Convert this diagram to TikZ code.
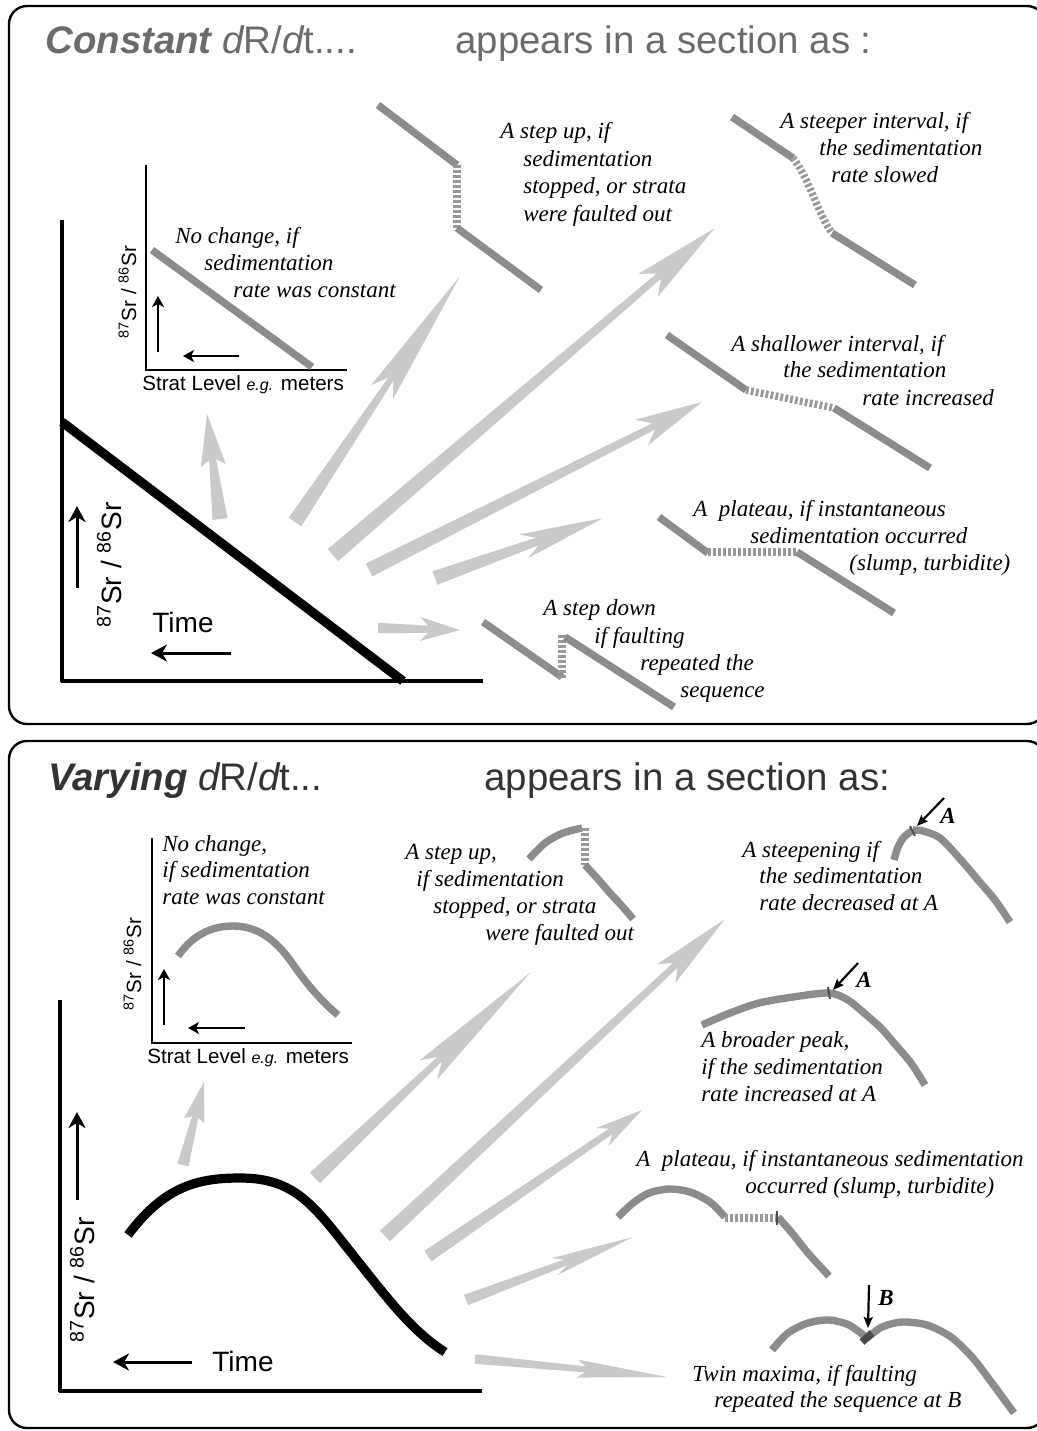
\documentclass[tikz,border=0pt]{standalone}
\usepackage{fontspec}
\newfontfamily\arial{Liberation Sans}
\newfontfamily\notefont{Liberation Serif}
\usetikzlibrary{calc,arrows.meta}
\definecolor{arrowgray}{gray}{0.79}
\definecolor{linegray}{gray}{0.55}
\definecolor{dashgray}{gray}{0.6}
\definecolor{tickgray}{gray}{0.3}
\definecolor{titlegray}{gray}{0.42}
\definecolor{titledark}{gray}{0.2}
% #1 tail, #2 tip, #3 tail half width, #4 neck half width, #5 inset dist, #6 barb dist, #7 barb half width
\newcommand\fatarrow[7]{%
  \coordinate (faN) at ($(#2)!#5!(#1)$);
  \coordinate (faB) at ($(#2)!#6!(#1)$);
  \fill[arrowgray] ($(#1)!#3!90:(#2)$) -- ($(faN)!#4!90:(#2)$) -- ($(faB)!#7!90:(#2)$) -- (#2)
    -- ($(faB)!#7!-90:(#2)$) -- ($(faN)!#4!-90:(#2)$) -- ($(#1)!#3!-90:(#2)$) -- cycle;}
\begin{document}
\begin{tikzpicture}[x=0.5pt,y=-0.5pt,
 panel/.style={draw=black,line width=1.2pt,rounded corners=9pt},
 gline/.style={draw=linegray,line width=3.7pt},
 dline/.style={draw=dashgray,line width=3.7pt,dash pattern=on 1.4pt off 1.1pt},
 bigtip/.style={-{Stealth[length=8pt,width=8.5pt,inset=2.5pt]},line width=1.5pt},
 smalltip/.style={-{Stealth[length=5.5pt,width=6pt,inset=1.5pt]},line width=0.9pt},
 atip/.style={-{Stealth[length=5.5pt,width=4.5pt,inset=1pt]},line width=1.1pt},
 title/.style={anchor=base west,inner sep=0pt,font=\arial\fontsize{19.2}{23}\selectfont},
 note/.style={anchor=base west,inner sep=0pt,font=\notefont\itshape\fontsize{11.5}{13}\selectfont},
 axlab/.style={inner sep=0pt,font=\arial\fontsize{14}{16}\selectfont},
 inlab/.style={inner sep=0pt,font=\arial\fontsize{10.3}{12}\selectfont},
 letter/.style={anchor=base west,inner sep=0pt,font=\notefont\bfseries\itshape\fontsize{11.5}{13}\selectfont},
 tick/.style={draw=tickgray,line width=1pt}]
\useasboundingbox (0,0) rectangle (1037,1431);
\begin{scope}
\clip (0,0) rectangle (1037,1431);
\draw[panel] (9,6) rectangle (1045,724);
\draw[panel] (9,741) rectangle (1045,1428);
\end{scope}

% ================= TOP PANEL =================
\node[title,text=titlegray] (t1) at (45,53) {{\bfseries\itshape Constant} {\itshape d}R/{\itshape d}t....};
\node[title,text=titlegray] (t2) at (455,53) {appears in a section as :};

% main graph
\draw[line width=2pt] (62,220) -- (62,682);
\draw[line width=1.6pt] (61,681) -- (483,681);
\draw[line width=4.6pt] (62,422) -- (403,681);
\coordinate (mu1) at (77,588); \coordinate (mu2) at (77,506);
\draw[bigtip] (mu1) -- (mu2);
\coordinate (ml1) at (231,653); \coordinate (ml2) at (151,653);
\draw[bigtip] (ml1) -- (ml2);
\node[axlab,rotate=90,anchor=base] (ylab1) at (121,565) {\textsuperscript{87}Sr / \textsuperscript{86}Sr};
\node[axlab,anchor=base west] (time1) at (152,632) {Time};

% inset graph
\draw[line width=1pt] (146,165) -- (146,370) -- (347,370);
\draw[gline] (152,250) -- (312,367);
\coordinate (iu1) at (158,352); \coordinate (iu2) at (158,296);
\draw[smalltip] (iu1) -- (iu2);
\coordinate (il1) at (239,356); \coordinate (il2) at (183,356);
\draw[smalltip] (il1) -- (il2);
\node[inlab,anchor=base west] (strat1) at (142,390) {Strat Level {\itshape\fontsize{8}{9}\selectfont e.g.} meters};
\node[inlab,rotate=90,anchor=base] (ylab2) at (136,292) {\textsuperscript{87}Sr / \textsuperscript{86}Sr};
\node[note] (n1a) at (175,243) {No change, if};
\node[note] (n1b) at (204,270) {sedimentation};
\node[note] (n1c) at (233,297) {rate was constant};

% step up
\draw[gline] (378,105) -- (457,165);
\draw[dline] (457,165) -- (457,228);
\draw[gline] (457,228) -- (541,290);
\node[note] (n2a) at (500,138) {A step up, if};
\node[note] (n2b) at (523,166) {sedimentation};
\node[note] (n2c) at (523,193) {stopped, or strata};
\node[note] (n2d) at (523,221) {were faulted out};

% steeper
\draw[gline] (732,117) -- (793,158);
\draw[dline] (793,158) .. controls (808,176) and (818,214) .. (832,233);
\draw[gline] (832,233) -- (915,285);
\node[note] (n3a) at (780,128) {A steeper interval, if};
\node[note] (n3b) at (819,155) {the sedimentation};
\node[note] (n3c) at (831,182) {rate slowed};

% shallower
\draw[gline] (667,335) -- (746,390);
\draw[dline] (746,390) -- (834,408);
\draw[gline] (834,408) -- (930,468);
\node[note] (n4a) at (731,351) {A shallower interval, if};
\node[note] (n4b) at (783,377) {the sedimentation};
\node[note] (n4c) at (862,405) {rate increased};

% plateau
\draw[gline] (659,517) -- (708,553);
\draw[dline] (708,552) -- (797,552);
\draw[gline] (797,552) -- (894,613);
\node[note] (n5a) at (693,516) {A\ \ plateau, if instantaneous};
\node[note] (n5b) at (750,543) {sedimentation occurred};
\node[note] (n5c) at (849,570) {(slump, turbidite)};

% step down
\draw[gline] (483,622) -- (562,677);
\draw[dline] (562,678) -- (562,635);
\draw[gline] (565,637) -- (674,707);
\node[note] (n6a) at (543,615) {A step down};
\node[note] (n6b) at (594,643) {if faulting};
\node[note] (n6c) at (640,670) {repeated the};
\node[note] (n6d) at (680,697) {sequence};

% fat arrows top
\coordinate (a1t) at (220,519); \coordinate (a1h) at (207,414);
\fatarrow{a1t}{a1h}{3.8pt}{1.7pt}{23pt}{26pt}{6.3pt}
\coordinate (a2t) at (295,522); \coordinate (a2h) at (460,276);
\fatarrow{a2t}{a2h}{3.8pt}{1.5pt}{62pt}{70pt}{6.5pt}
\coordinate (a3t) at (333,555); \coordinate (a3h) at (715,228);
\fatarrow{a3t}{a3h}{4pt}{1.7pt}{37pt}{44pt}{7.5pt}
\coordinate (a4t) at (369,570); \coordinate (a4h) at (702,402);
\fatarrow{a4t}{a4h}{3.6pt}{1.7pt}{27pt}{34pt}{7.2pt}
\coordinate (a5t) at (435,578); \coordinate (a5h) at (603,518);
\fatarrow{a5t}{a5h}{3.6pt}{2pt}{35pt}{42pt}{6.3pt}
\coordinate (a6t) at (378,628); \coordinate (a6h) at (460,630);
\fatarrow{a6t}{a6h}{2.6pt}{1.8pt}{16pt}{20pt}{6pt}

% ================= BOTTOM PANEL =================
\node[title,text=titledark] (t3) at (48,790) {{\bfseries\itshape Varying} {\itshape d}R/{\itshape d}t...};
\node[title,text=titledark] (t4) at (484,790) {appears in a section as:};

% main graph
\draw[line width=2pt] (60,1000) -- (60,1392);
\draw[line width=1.6pt] (59,1391) -- (482,1391);
\draw[line width=4.6pt] (128,1235) .. controls (165,1185) and (200,1178) .. (240,1178)
  .. controls (290,1178) and (310,1200) .. (345,1245)
  .. controls (385,1295) and (410,1330) .. (445,1352);
\coordinate (mu3) at (77,1200); \coordinate (mu4) at (77,1112);
\draw[bigtip] (mu3) -- (mu4);
\coordinate (ml3) at (192,1362); \coordinate (ml4) at (113,1362);
\draw[bigtip] (ml3) -- (ml4);
\node[axlab,rotate=90,anchor=base] (ylab3) at (94,1280) {\textsuperscript{87}Sr / \textsuperscript{86}Sr};
\node[axlab,anchor=base west] (time2) at (212,1371) {Time};

% inset
\draw[line width=1pt] (152,838) -- (152,1043) -- (352,1043);
\draw[gline] (178,956) .. controls (195,932) and (215,926) .. (233,926)
  .. controls (258,926) and (275,940) .. (290,960)
  .. controls (305,982) and (320,1000) .. (338,1015);
\coordinate (iu3) at (164,1025); \coordinate (iu4) at (164,969);
\draw[smalltip] (iu3) -- (iu4);
\coordinate (il3) at (245,1028); \coordinate (il4) at (188,1028);
\draw[smalltip] (il3) -- (il4);
\node[inlab,anchor=base west] (strat2) at (147,1063) {Strat Level {\itshape\fontsize{8}{9}\selectfont e.g.} meters};
\node[inlab,rotate=90,anchor=base] (ylab4) at (141,964) {\textsuperscript{87}Sr / \textsuperscript{86}Sr};
\node[note] (m1a) at (162,851) {No change,};
\node[note] (m1b) at (162,877) {if sedimentation};
\node[note] (m1c) at (162,904) {rate was constant};

% step up
\draw[gline] plot[smooth] coordinates {(529,859) (545,843) (563,833) (582,828)};
\draw[dline] (585,828) -- (585,865);
\draw[gline] plot[smooth] coordinates {(585,865) (597,878) (610,893) (622,906) (633,919)};
\node[note] (m2a) at (405,859) {A step up,};
\node[note] (m2b) at (416,886) {if sedimentation};
\node[note] (m2c) at (433,913) {stopped, or strata};
\node[note] (m2d) at (485,940) {were faulted out};

% steepening
\draw[gline] plot[smooth] coordinates {(894,860) (898,847) (904,837) (913,830)};
\draw[gline] plot[smooth] coordinates {(913,830) (923,831) (940,838) (961,860) (978,880) (995,900) (1010,922)};
\draw[tick] (910,826) -- (915,836);
\coordinate (ar1) at (944,798); \coordinate (ar1h) at (917,826);
\draw[atip] (ar1) -- (ar1h);
\node[letter] (la1) at (940,823) {A};
\node[note] (m3a) at (742,857) {A steepening if};
\node[note] (m3b) at (759,883) {the sedimentation};
\node[note] (m3c) at (759,910) {rate decreased at A};

% broader peak
\draw[gline] plot[smooth] coordinates {(702,1025) (730,1013) (759,1003) (793,997) (829,993) (848,1000) (864,1013) (881,1028) (894,1043) (911,1063) (925,1085)};
\draw[tick] (828,987) -- (830,999);
\coordinate (ar2) at (858,963); \coordinate (ar2h) at (833,990);
\draw[atip] (ar2) -- (ar2h);
\node[letter] (la2) at (856,987) {A};
\node[note] (m4a) at (701,1047) {A broader peak,};
\node[note] (m4b) at (701,1074) {if the sedimentation};
\node[note] (m4c) at (701,1101) {rate increased at A};

% plateau
\draw[gline] plot[smooth] coordinates {(618,1217) (633,1203) (649,1193) (669,1189) (690,1192) (710,1202) (725,1217)};
\draw[dline] (725,1218) -- (778,1218);
\draw[gline] plot[smooth] coordinates {(778,1217) (792,1233) (808,1253) (829,1276)};
\draw[tick,line width=1.4pt] (777,1211) -- (777,1225);
\node[note] (m5a) at (636,1166) {A\ \ plateau, if instantaneous sedimentation};
\node[note] (m5b) at (745,1193) {occurred (slump, turbidite)};

% twin maxima
\draw[gline] plot[smooth] coordinates {(772,1350) (788,1333) (808,1323) (829,1320) (849,1325) (867,1338)};
\draw[gline] plot[smooth] coordinates {(867,1338) (882,1327) (902,1322) (927,1325) (951,1337) (972,1357) (992,1383) (1014,1413)};
\draw[draw=tickgray,line width=3.7pt] (862,1342) -- (872,1333);
\coordinate (ar3) at (869,1285); \coordinate (ar3h) at (868,1328);
\draw[atip] (ar3) -- (ar3h);
\node[letter] (lb) at (878,1305) {B};
\node[note] (m6a) at (692,1381) {Twin maxima, if faulting};
\node[note] (m6b) at (714,1407) {repeated the sequence at B};

% fat arrows bottom
\coordinate (b1t) at (183,1165); \coordinate (b1h) at (204,1082);
\fatarrow{b1t}{b1h}{2.9pt}{1.6pt}{18pt}{20pt}{5.3pt}
\coordinate (b2t) at (315,1178); \coordinate (b2h) at (531,972);
\fatarrow{b2t}{b2h}{3.7pt}{1.5pt}{63pt}{71pt}{6.5pt}
\coordinate (b3t) at (385,1236); \coordinate (b3h) at (725,919);
\fatarrow{b3t}{b3h}{3.6pt}{1.6pt}{34pt}{40pt}{6.5pt}
\coordinate (b4t) at (428,1256); \coordinate (b4h) at (642,1110);
\fatarrow{b4t}{b4h}{3.2pt}{1.6pt}{19pt}{24pt}{5.5pt}
\coordinate (b5t) at (466,1300); \coordinate (b5h) at (633,1237);
\fatarrow{b5t}{b5h}{2.8pt}{1.6pt}{36pt}{42pt}{4.5pt}
\coordinate (b6t) at (475,1359); \coordinate (b6h) at (667,1377);
\fatarrow{b6t}{b6h}{2.4pt}{1.5pt}{41pt}{45pt}{4.5pt}
\end{tikzpicture}
\end{document}
